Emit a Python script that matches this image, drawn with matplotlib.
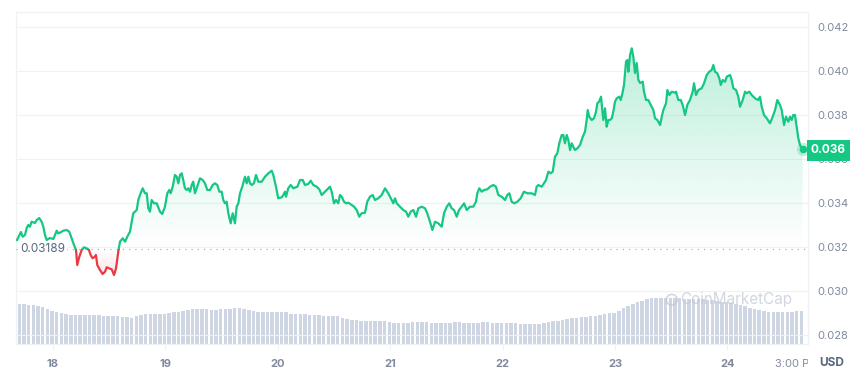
import numpy as np
import matplotlib
matplotlib.use("Agg")
import matplotlib.pyplot as plt
from matplotlib.patches import Rectangle
from matplotlib.transforms import Bbox, TransformedBbox, blended_transform_factory

plt.rcParams['font.family'] = ['Inter', 'DejaVu Sans']

# ---- data ----
days = [17.680, 17.715, 17.730, 17.751, 17.766, 17.780, 17.795, 17.810, 17.840, 17.855,
        17.878, 17.899, 17.914, 17.929, 17.944, 17.973, 18.003, 18.018, 18.033, 18.047,
        18.062, 18.092, 18.122, 18.145, 18.166, 18.187, 18.205, 18.216, 18.231, 18.240,
        18.255, 18.276, 18.300, 18.320, 18.335, 18.353, 18.373, 18.382, 18.394, 18.418,
        18.442, 18.463, 18.478, 18.498, 18.522, 18.543, 18.561, 18.581, 18.596, 18.620,
        18.641, 18.661, 18.685, 18.714, 18.745, 18.759, 18.774, 18.798, 18.819, 18.834,
        18.848, 18.863, 18.878, 18.899, 18.923, 18.952, 18.972, 18.996, 19.017, 19.035,
        19.047, 19.065, 19.085, 19.101, 19.115, 19.130, 19.145, 19.159, 19.174, 19.190,
        19.204, 19.219, 19.234, 19.248, 19.263, 19.278, 19.308, 19.332, 19.352, 19.373,
        19.397, 19.421, 19.441, 19.462, 19.480, 19.501, 19.515, 19.530, 19.545, 19.560,
        19.581, 19.599, 19.619, 19.634, 19.649, 19.664, 19.684, 19.708, 19.723, 19.738,
        19.753, 19.768, 19.788, 19.806, 19.827, 19.857, 19.886, 19.916, 19.946, 19.960,
        19.984, 20.004, 20.035, 20.049, 20.064, 20.073, 20.093, 20.115, 20.138, 20.174,
        20.198, 20.222, 20.242, 20.271, 20.293, 20.316, 20.346, 20.369, 20.391, 20.420,
        20.449, 20.464, 20.480, 20.500, 20.518, 20.538, 20.553, 20.569, 20.589, 20.607,
        20.627, 20.658, 20.678, 20.702, 20.725, 20.746, 20.776, 20.796, 20.820, 20.844,
        20.865, 20.894, 20.924, 20.954, 20.983, 21.013, 21.028, 21.043, 21.058, 21.087,
        21.117, 21.141, 21.161, 21.182, 21.206, 21.230, 21.250, 21.280, 21.310, 21.330,
        21.354, 21.375, 21.399, 21.428, 21.458, 21.479, 21.503, 21.526, 21.547, 21.568,
        21.592, 21.612, 21.636, 21.657, 21.681, 21.710, 21.739, 21.763, 21.775, 21.793,
        21.814, 21.835, 21.864, 21.888, 21.917, 21.941, 21.962, 21.992, 22.021, 22.042,
        22.060, 22.081, 22.102, 22.131, 22.161, 22.190, 22.220, 22.259, 22.288, 22.303,
        22.318, 22.348, 22.368, 22.386, 22.407, 22.428, 22.446, 22.466, 22.487, 22.504,
        22.526, 22.540, 22.555, 22.570, 22.585, 22.600, 22.615, 22.629, 22.644, 22.665,
        22.689, 22.713, 22.733, 22.748, 22.757, 22.771, 22.793, 22.813, 22.831, 22.843,
        22.858, 22.876, 22.884, 22.896, 22.911, 22.926, 22.940, 22.956, 22.971, 22.985,
        23.000, 23.015, 23.038, 23.051, 23.069, 23.080, 23.098, 23.110, 23.119, 23.134,
        23.149, 23.163, 23.178, 23.193, 23.208, 23.223, 23.247, 23.258, 23.276, 23.296,
        23.318, 23.341, 23.356, 23.377, 23.401, 23.416, 23.430, 23.454, 23.466, 23.484,
        23.505, 23.534, 23.543, 23.563, 23.585, 23.602, 23.623, 23.643, 23.667, 23.691,
        23.703, 23.721, 23.741, 23.771, 23.792, 23.816, 23.839, 23.860, 23.875, 23.890,
        23.910, 23.928, 23.941, 23.958, 23.979, 23.994, 24.024, 24.038, 24.053, 24.077,
        24.097, 24.112, 24.136, 24.157, 24.172, 24.195, 24.216, 24.246, 24.275, 24.290,
        24.305, 24.326, 24.350, 24.379, 24.403, 24.424, 24.444, 24.468, 24.483, 24.504,
        24.521, 24.542, 24.557, 24.572, 24.586, 24.601, 24.616, 24.631, 24.646, 24.670]

prices = [0.032318, 0.032682, 0.032468, 0.032545, 0.032864, 0.033000, 0.032923, 0.033150, 0.033091, 0.033227,
          0.033318, 0.033150, 0.032923, 0.032545, 0.032318, 0.032409, 0.032364, 0.032545, 0.032741, 0.032623,
          0.032650, 0.032741, 0.032773, 0.032695, 0.032395, 0.032091, 0.031864, 0.031182, 0.031500, 0.031636,
          0.031864, 0.031986, 0.031941, 0.031864, 0.031636, 0.031486, 0.031559, 0.031636, 0.031182, 0.030955,
          0.030773, 0.030877, 0.031077, 0.031032, 0.030986, 0.030727, 0.031032, 0.031786, 0.032241, 0.032395,
          0.032241, 0.032468, 0.032695, 0.033532, 0.033682, 0.034136, 0.034364, 0.034668, 0.034441, 0.034441,
          0.033759, 0.033605, 0.034136, 0.033986, 0.033986, 0.033605, 0.033500, 0.033832, 0.034441, 0.034591,
          0.034441, 0.034741, 0.035273, 0.035195, 0.034895, 0.035273, 0.035350, 0.035045, 0.034668, 0.034591,
          0.034668, 0.034514, 0.034818, 0.034968, 0.034441, 0.034668, 0.035123, 0.035045, 0.034895, 0.034591,
          0.034591, 0.034818, 0.034895, 0.034818, 0.034514, 0.034514, 0.034136, 0.033986, 0.034059, 0.033532,
          0.033077, 0.033532, 0.033077, 0.033832, 0.033986, 0.034441, 0.034741, 0.035195, 0.034895, 0.035195,
          0.034895, 0.034818, 0.034895, 0.035273, 0.034968, 0.034968, 0.035195, 0.035350, 0.035468, 0.035273,
          0.034741, 0.034214, 0.034259, 0.034364, 0.034514, 0.034286, 0.034668, 0.034818, 0.034668, 0.034741,
          0.035045, 0.035045, 0.034818, 0.034864, 0.035014, 0.034818, 0.034741, 0.034623, 0.034364, 0.034514,
          0.034668, 0.034741, 0.034514, 0.033986, 0.034136, 0.033986, 0.034364, 0.034286, 0.034059, 0.033986,
          0.034014, 0.033909, 0.033832, 0.033682, 0.033377, 0.033532, 0.033559, 0.034059, 0.034286, 0.034364,
          0.034136, 0.034214, 0.034364, 0.034668, 0.034441, 0.034136, 0.033986, 0.034214, 0.033986, 0.033832,
          0.033682, 0.033605, 0.033377, 0.033605, 0.033682, 0.033377, 0.033759, 0.033832, 0.033759, 0.033532,
          0.033150, 0.032773, 0.033150, 0.033077, 0.032923, 0.033532, 0.033832, 0.033986, 0.033759, 0.033682,
          0.033377, 0.033682, 0.033832, 0.033986, 0.033682, 0.033832, 0.033832, 0.034059, 0.034441, 0.034668,
          0.034514, 0.034591, 0.034623, 0.034741, 0.034818, 0.034741, 0.034364, 0.034286, 0.034136, 0.034364,
          0.034441, 0.034059, 0.033986, 0.034059, 0.034214, 0.034514, 0.034441, 0.034441, 0.034364, 0.034741,
          0.034818, 0.034741, 0.034895, 0.035045, 0.035423, 0.035350, 0.035423, 0.036105, 0.036259, 0.036714,
          0.037091, 0.037091, 0.036714, 0.037091, 0.036864, 0.036409, 0.036714, 0.036559, 0.036409, 0.036486,
          0.036636, 0.037014, 0.037241, 0.037773, 0.038227, 0.037923, 0.037773, 0.037850, 0.038150, 0.038532,
          0.038605, 0.038832, 0.038377, 0.037773, 0.038305, 0.037468, 0.037773, 0.037773, 0.037850, 0.038150,
          0.038605, 0.038759, 0.038832, 0.038682, 0.039059, 0.039364, 0.040423, 0.040500, 0.039968, 0.040727,
          0.041032, 0.040650, 0.039909, 0.040364, 0.039591, 0.039455, 0.039514, 0.039059, 0.038682, 0.038682,
          0.038455, 0.038227, 0.037850, 0.037773, 0.037545, 0.037923, 0.038227, 0.038532, 0.039136, 0.038909,
          0.039059, 0.039014, 0.039059, 0.038682, 0.038682, 0.038455, 0.038000, 0.038455, 0.038682, 0.039059,
          0.039441, 0.038909, 0.039136, 0.039214, 0.039441, 0.039818, 0.039968, 0.040045, 0.040273, 0.039968,
          0.039895, 0.039668, 0.039364, 0.039591, 0.039514, 0.039741, 0.039818, 0.039591, 0.039214, 0.039136,
          0.038832, 0.038377, 0.038682, 0.039059, 0.038986, 0.039059, 0.038909, 0.038759, 0.038682, 0.038832,
          0.038377, 0.038000, 0.037850, 0.037623, 0.037923, 0.038227, 0.038682, 0.038455, 0.038227, 0.037545,
          0.037923, 0.037695, 0.037923, 0.037773, 0.038000, 0.038000, 0.037468, 0.036941, 0.036636, 0.036441]

# hourly volume (millions USD)
volume = [40, 40, 39, 39,
          38, 37, 35, 33, 32, 31, 30, 29,
          29.5, 29, 29, 29, 29, 29, 28.5, 28, 28, 28, 27.5, 27, 26.5,
          28, 29, 30, 30, 30, 30, 30,
          31, 32, 32, 33, 34, 35, 35, 35, 35, 34.5, 34.5, 35, 35, 35.5, 36, 36, 35.5,
          34, 33, 32, 32, 32, 32, 32, 32, 32,
          30.5, 30, 30, 30, 29.5, 29, 29, 28.5, 28, 28, 28,
          26.5, 25.5, 24.5, 24, 23, 23, 23, 23, 23, 23,
          22, 21.5, 21.5, 21.5, 21.5, 22, 22, 22, 22, 21.5, 21.5, 21.5,
          21.5, 21.5, 22, 22, 21.5, 21.5, 21.5, 21.5, 22, 22, 21.5, 21.5, 21.5, 21.5,
          21, 21, 20.5, 20.5, 20.5, 20, 20.5, 21,
          22, 23, 23.5, 24.5, 25, 26, 26.5, 27, 27.5, 28, 28.5, 29.5, 30, 31, 31.5, 33,
          36, 38, 40, 42, 43.5, 45, 46, 46, 46, 46, 46, 46, 46, 45.5, 45.5, 45, 45, 45,
          44, 44, 43, 42.5, 42, 41, 40, 39, 38, 36, 35, 34, 33, 32.5, 32, 32, 32, 32, 32.5, 33, 33.5]
volume_start = 17.70          # first hourly bucket (day of month)
base_price = 0.03189
yticks = [0.028, 0.030, 0.032, 0.034, 0.036, 0.038, 0.040, 0.042]
xticks = [18, 19, 20, 21, 22, 23, 24]
xlabels = ['18', '19', '20', '21', '22', '23', '24']
last_label = '0.036'

# ---- styling ----
GREEN = '#16c784'
RED = '#ea3943'
GRID = '#eff2f5'
TXT = '#808a9d'

W, H = 864, 378
fig = plt.figure(figsize=(W / 100, H / 100), dpi=100)
ax_l, ax_r, ax_t, ax_b = 16, 808, 12, 344
ax = fig.add_axes([ax_l / W, 1 - ax_b / H, (ax_r - ax_l) / W, (ax_b - ax_t) / H])

xmin, xmax = 17.671, 24.717
ymin, ymax = 0.027591, 0.042682

# volume bars on twin axis
axv = ax.twinx()
vt = volume_start + np.arange(len(volume)) / 24.0
axv.bar(vt, volume, width=0.75 / 24, color='#cfd6e3', align='center', zorder=1, linewidth=0)
axv.set_ylim(0, 332)
axv.set_xlim(xmin, xmax)
axv.axis('off')
ax.set_zorder(axv.get_zorder() + 1)
ax.patch.set_visible(False)

ax.set_xlim(xmin, xmax)
ax.set_ylim(ymin, ymax)

d = np.array(days)
p = np.array(prices)

# gradient fills
def grad_fill(color, a_top, a_bot, y0, y1, where_poly):
    rgb = matplotlib.colors.to_rgb(color)
    n = 256
    alphas = np.linspace(a_top, a_bot, n).reshape(n, 1)
    img = np.zeros((n, 1, 4))
    img[:, :, 0], img[:, :, 1], img[:, :, 2] = rgb
    img[:, :, 3] = alphas
    im = ax.imshow(img, extent=[xmin, xmax, y0, y1], origin='upper', aspect='auto', zorder=2,
                   interpolation='bilinear')
    path = where_poly.get_paths()[0]
    im.set_clip_path(path, transform=ax.transData)

pg = ax.fill_between(d, np.maximum(p, base_price), base_price, facecolor='none', edgecolor='none')
grad_fill(GREEN, 0.30, 0.0, base_price, 0.0415, pg)
pr = ax.fill_between(d, np.minimum(p, base_price), base_price, facecolor='none', edgecolor='none')
grad_fill(RED, 0.0, 0.16, 0.0305, base_price, pr)

# price line split by baseline
lg, = ax.plot(d, p, color=GREEN, lw=1.6, zorder=4, solid_joinstyle='round')
lg.set_clip_path(Rectangle((xmin, base_price), xmax - xmin, ymax - base_price, transform=ax.transData))
lr, = ax.plot(d, p, color=RED, lw=1.6, zorder=4, solid_joinstyle='round')
lr.set_clip_path(Rectangle((xmin, ymin), xmax - xmin, base_price - ymin, transform=ax.transData))

# baseline dotted
ax.axhline(base_price, color='#a6b0c3', lw=0.9, ls=(0, (1, 4)), zorder=3)
ax.text(17.705, base_price, '0.03189', ha='left', va='center', fontsize=8.5, color='#58667e',
        zorder=6, bbox=dict(boxstyle='square,pad=0.15', fc='white', ec='none'))

# end marker
ax.scatter([d[-1]], [p[-1]], s=90, color=GREEN, alpha=0.25, zorder=5, linewidths=0)
ax.scatter([d[-1]], [p[-1]], s=30, color=GREEN, zorder=6, linewidths=0)

# grid
for yv in yticks:
    ax.axhline(yv, color=GRID, lw=0.8, zorder=0)

for s in ax.spines.values():
    s.set_color('#eff2f5')
    s.set_linewidth(0.9)

ax.yaxis.tick_right()
ax.set_yticks(yticks)
ax.set_yticklabels([f'{v:.3f}' for v in yticks])
ax.tick_params(axis='y', length=0, pad=7, labelsize=8, labelcolor=TXT)
ax.set_xticks(xticks)
ax.set_xticklabels(xlabels, fontweight='bold')
ax.tick_params(axis='x', length=4, color='#eff2f5', pad=7, labelsize=8, labelcolor=TXT)

# 3:00 PM label, clipped at the plot edge
t = ax.text(24.625, -0.045, '3:00 PM', transform=blended_transform_factory(ax.transData, ax.transAxes),
            ha='center', va='top', fontsize=8, color=TXT, clip_on=True)
t.set_clip_box(TransformedBbox(Bbox([[0, 0], [ax_r / W, 1]]), fig.transFigure))

# USD label
fig.text(819 / W, 1 - 363 / H, 'USD', ha='left', va='center', fontsize=8.5, fontweight='bold', color='#58667e')

# last-price tag
tr = blended_transform_factory(ax.transAxes, ax.transData)
ax.text(1.0035, p[-1] - 0.00005, last_label, transform=tr, ha='left', va='center', fontsize=8.5,
        fontweight='bold', color='white', zorder=10, clip_on=False,
        bbox=dict(boxstyle='square,pad=0.35', fc=GREEN, ec='none'))

# watermark
ax.text(0.838, 0.133, 'CoinMarketCap', transform=ax.transAxes, fontsize=11, color='#bfc6d2',
        alpha=0.7, ha='left', va='center', zorder=3)
ax.scatter([0.828], [0.133], transform=ax.transAxes, s=60, facecolor='none', edgecolor='#bfc6d2',
           alpha=0.7, linewidths=1.2, zorder=3)

fig.savefig('out.png', dpi=100, facecolor='white')
